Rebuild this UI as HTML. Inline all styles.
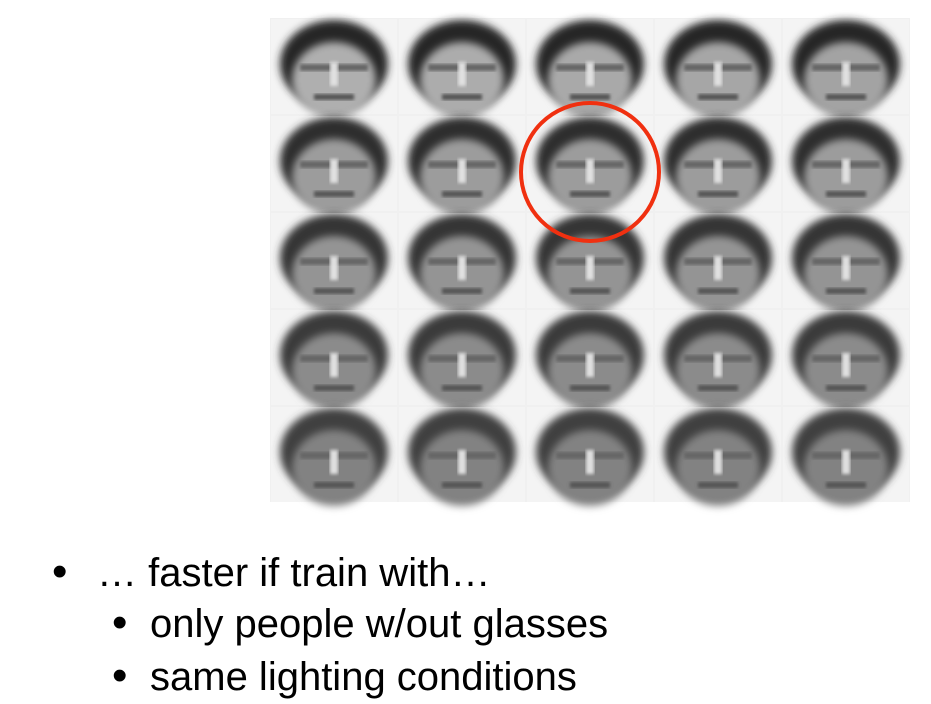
<!DOCTYPE html>
<html><head><meta charset="utf-8"><style>
html,body{margin:0;padding:0;background:#fff;width:931px;height:704px;overflow:hidden}
svg{position:absolute;left:0;top:0}
.t{position:absolute;font-family:"Liberation Sans",sans-serif;font-size:40px;color:#000;white-space:nowrap;line-height:1;transform-origin:0 0;transform:scaleX(1.0)}
.b{position:absolute;font-family:"Liberation Sans",sans-serif;font-size:44px;line-height:1}
</style></head><body>
<svg id="s" width="931" height="704">
<defs>
<filter id="b" x="-20%" y="-20%" width="140%" height="140%"><feGaussianBlur stdDeviation="4"/></filter>
<filter id="b2"><feGaussianBlur stdDeviation="1.5"/></filter>
</defs>
<rect x="270" y="18" width="640" height="484" fill="#f0f0f0"/>
<g id="g"></g>
<circle cx="590" cy="172" r="69" fill="none" stroke="#f03010" stroke-width="4"/>
</svg>
<div class="b" style="left:52px;top:550px">•</div>
<div class="t" style="left:97px;top:553px">… faster if train with…</div>
<div class="b" style="left:112px;top:601px">•</div>
<div class="t" style="left:150px;top:604px">only people w/out glasses</div>
<div class="b" style="left:112px;top:654px">•</div>
<div class="t" style="left:150px;top:657px">same lighting conditions</div>
<script>
var g=document.getElementById('g'),ns='http://www.w3.org/2000/svg';
function el(t,a,p){var e=document.createElementNS(ns,t);for(var k in a)e.setAttribute(k,a[k]);p.appendChild(e);return e;}
for(var r=0;r<5;r++)for(var c=0;c<5;c++){
 var x=270+c*128,y=18+r*97,cx=x+64,cy=y+50,d=r/4;
 var cell=el('g',{},g);
 
 
 el('rect',{x:x+1,y:y+1,width:126,height:95,fill:'#f4f4f4'},cell);
 var hair=Math.round(40+d*25);
 el('ellipse',{cx:cx,cy:cy-4,rx:54,ry:44,fill:'rgb('+hair+','+hair+','+hair+')',filter:'url(#b)'},cell);
 var f=Math.round(r==0?175-c*3:165-d*35);
 el('ellipse',{cx:cx,cy:cy+12,rx:42,ry:38,fill:'rgb('+f+','+f+','+f+')',filter:'url(#b)'},cell);
 el('rect',{x:cx-34,y:cy-4,width:68,height:7,fill:'#666',filter:'url(#b2)'},cell);
 el('rect',{x:cx-4,y:cy-6,width:8,height:24,fill:'#e0e0e0',filter:'url(#b2)'},cell);
 el('rect',{x:cx-20,y:cy+26,width:40,height:6,fill:'#555',filter:'url(#b2)'},cell);
}
</script>
</body></html>
